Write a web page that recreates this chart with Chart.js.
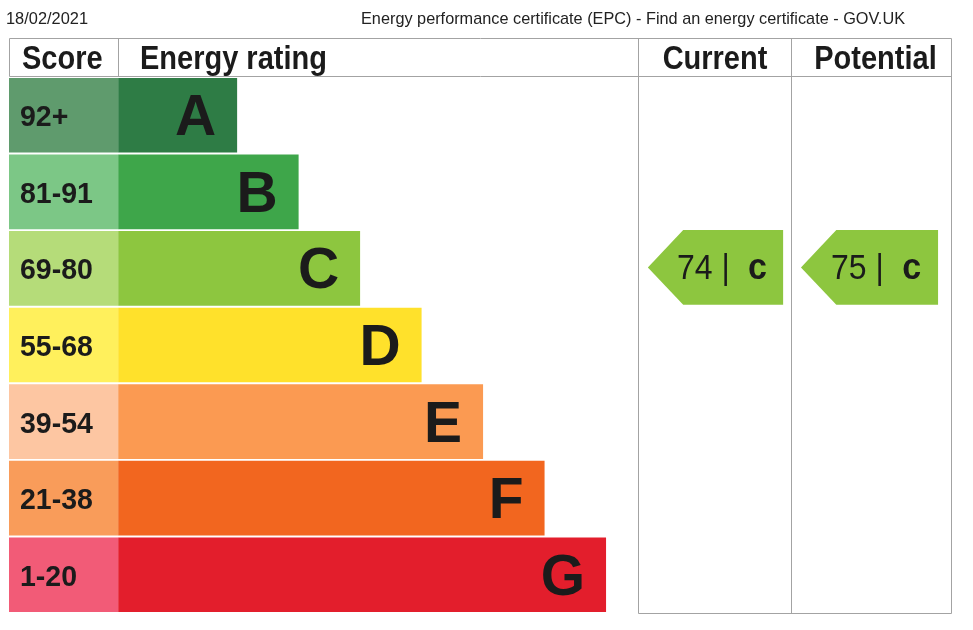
<!DOCTYPE html>
<html>
<head>
<meta charset="utf-8">
<title>EPC rating</title>
<script src="https://cdn.jsdelivr.net/npm/chart.js@4/dist/chart.umd.min.js"></script>
<style>
  html, body { margin: 0; padding: 0; background: #fff; }
</style>
</head>
<body>
<canvas id="epcChart" width="973" height="630"></canvas>
<script>
const bands = ['A', 'B', 'C', 'D', 'E', 'F', 'G'];
const scoreRanges = ['92+', '81-91', '69-80', '55-68', '39-54', '21-38', '1-20'];
const bandLength = [1, 2, 3, 4, 5, 6, 7];
const bandColors = ['#2e7c45', '#3ea64a', '#8dc63f', '#ffe12b', '#fb9a52', '#f2661f', '#e31e2c'];
const scoreColors = ['#5f9b6d', '#7cc786', '#b5dc79', '#fff05c', '#fdc6a2', '#f99c5a', '#f25b77'];
const current = { score: 74, band: 'C' };
const potential = { score: 75, band: 'C' };

const headerDate = '18/02/2021';
const headerTitle = 'Energy performance certificate (EPC) - Find an energy certificate - GOV.UK';

// x axis layout (units of one band step)
const X_MIN = -2.71;
const BAR_BASE = -0.935;
const COL_CURRENT = 7.52;
const COL_POTENTIAL = 10.01;
const X_MAX = 12.61;

const FONT = '"Liberation Sans", Arial, Helvetica, sans-serif';
const INK = '#1b1b1b';

// text that is a little taller than it is wide, like the scanned print
function tallText(ctx, text, x, y, stretch, maxWidth) {
  ctx.save();
  ctx.translate(x, y);
  ctx.scale(1, stretch);
  if (maxWidth) ctx.fillText(text, 0, 0, maxWidth);
  else ctx.fillText(text, 0, 0);
  ctx.restore();
}

const epcTable = {
  id: 'epcTable',
  afterDraw(chart) {
    const ctx = chart.ctx;
    const x = chart.scales.x;
    const y = chart.scales.y;
    const area = chart.chartArea;
    const headTop = 38.5;
    const headBottom = 76.5;

    ctx.save();

    // page header
    ctx.fillStyle = '#222';
    ctx.font = '17px ' + FONT;
    ctx.textAlign = 'left';
    ctx.textBaseline = 'alphabetic';
    tallText(ctx, headerDate, 6, 24, 1, 82);
    ctx.textAlign = 'right';
    tallText(ctx, headerTitle, 905, 24, 1, 544);

    // table lines
    ctx.strokeStyle = '#a3a3a3';
    ctx.lineWidth = 1;
    const xl = Math.round(area.left) + 0.5;
    const xr = Math.round(area.right) + 0.5;
    const xb = Math.round(x.getPixelForValue(BAR_BASE)) + 0.5;
    const xc = Math.round(x.getPixelForValue(COL_CURRENT)) + 0.5;
    const xp = Math.round(x.getPixelForValue(COL_POTENTIAL)) + 0.5;
    const yb = Math.round(area.bottom) + 0.5;
    ctx.beginPath();
    ctx.moveTo(xl, headTop); ctx.lineTo(xr, headTop);
    ctx.moveTo(xl, headBottom); ctx.lineTo(xr, headBottom);
    ctx.moveTo(xl, headTop); ctx.lineTo(xl, headBottom);
    ctx.moveTo(xb, headTop); ctx.lineTo(xb, headBottom);
    ctx.moveTo(xc, headTop); ctx.lineTo(xc, yb);
    ctx.moveTo(xp, headTop); ctx.lineTo(xp, yb);
    ctx.moveTo(xr, headTop); ctx.lineTo(xr, yb);
    ctx.moveTo(xc, yb); ctx.lineTo(xr, yb);
    ctx.stroke();

    // column headings
    ctx.fillStyle = INK;
    ctx.font = 'bold 29px ' + FONT;
    ctx.textAlign = 'left';
    tallText(ctx, 'Score', 22, 69, 1.16);
    tallText(ctx, 'Energy rating', 140, 69, 1.16);
    ctx.textAlign = 'center';
    tallText(ctx, 'Current', (xc + xp) / 2, 69, 1.16);
    tallText(ctx, 'Potential', (xp + xr) / 2 + 4, 69, 1.16);

    // score ranges and band letters
    bands.forEach((b, i) => {
      const cy = y.getPixelForValue(i);
      ctx.font = 'bold 28.5px ' + FONT;
      ctx.textAlign = 'left';
      tallText(ctx, scoreRanges[i], 20, cy + 11, 1.04);
      ctx.font = 'bold 57px ' + FONT;
      ctx.textAlign = 'right';
      ctx.fillText(b, x.getPixelForValue(bandLength[i]) - 21, cy + 20);
    });

    // current / potential arrows
    const meta = chart.getDatasetMeta(1);
    const drawArrow = (item, from, to) => {
      const i = bands.indexOf(item.band);
      const bar = meta.data[i];
      const top = bar.y - bar.height / 2 - 1;
      const bottom = bar.y + bar.height / 2 - 1;
      const x0 = x.getPixelForValue(from);
      const x1 = x.getPixelForValue(to);
      const mid = (top + bottom) / 2;
      const point = (bottom - top) / 2 - 2;
      ctx.fillStyle = bandColors[i];
      ctx.beginPath();
      ctx.moveTo(x0, mid);
      ctx.lineTo(x0 + point, top);
      ctx.lineTo(x1, top);
      ctx.lineTo(x1, bottom);
      ctx.lineTo(x0 + point, bottom);
      ctx.closePath();
      ctx.fill();

      const parts = [
        { t: String(item.score), f: '32px ' + FONT },
        { t: ' | ', f: '32px ' + FONT },
        { t: ' ' + item.band.toLowerCase(), f: 'bold 34px ' + FONT }
      ];
      let w = 0;
      parts.forEach(p => { ctx.font = p.f; w += ctx.measureText(p.t).width; });
      let tx = (x0 + x1) / 2 + 6.5 - w / 2;
      ctx.fillStyle = INK;
      ctx.textAlign = 'left';
      parts.forEach(p => {
        ctx.font = p.f;
        tallText(ctx, p.t, tx, mid + 12, 1.1);
        tx += ctx.measureText(p.t).width;
      });
    };
    drawArrow(current, 7.68, 9.88);
    drawArrow(potential, 10.17, 12.40);

    ctx.restore();
  }
};

new Chart(document.getElementById('epcChart'), {
  type: 'bar',
  data: {
    labels: bands,
    datasets: [
      {
        label: 'Score',
        data: bands.map(() => [X_MIN, BAR_BASE]),
        backgroundColor: scoreColors,
        grouped: false,
        borderWidth: 0
      },
      {
        label: 'Energy rating',
        data: bandLength.map(v => [BAR_BASE, v]),
        backgroundColor: bandColors,
        grouped: false,
        borderWidth: 0
      }
    ]
  },
  options: {
    indexAxis: 'y',
    responsive: false,
    animation: false,
    devicePixelRatio: 1,
    barPercentage: 0.975,
    categoryPercentage: 1,
    layout: { padding: { left: 9, right: 22, top: 77, bottom: 17 } },
    scales: {
      x: { type: 'linear', min: X_MIN, max: X_MAX, display: false },
      y: { display: false }
    },
    plugins: {
      legend: { display: false },
      tooltip: { enabled: false }
    }
  },
  plugins: [epcTable]
});
</script>
</body>
</html>
